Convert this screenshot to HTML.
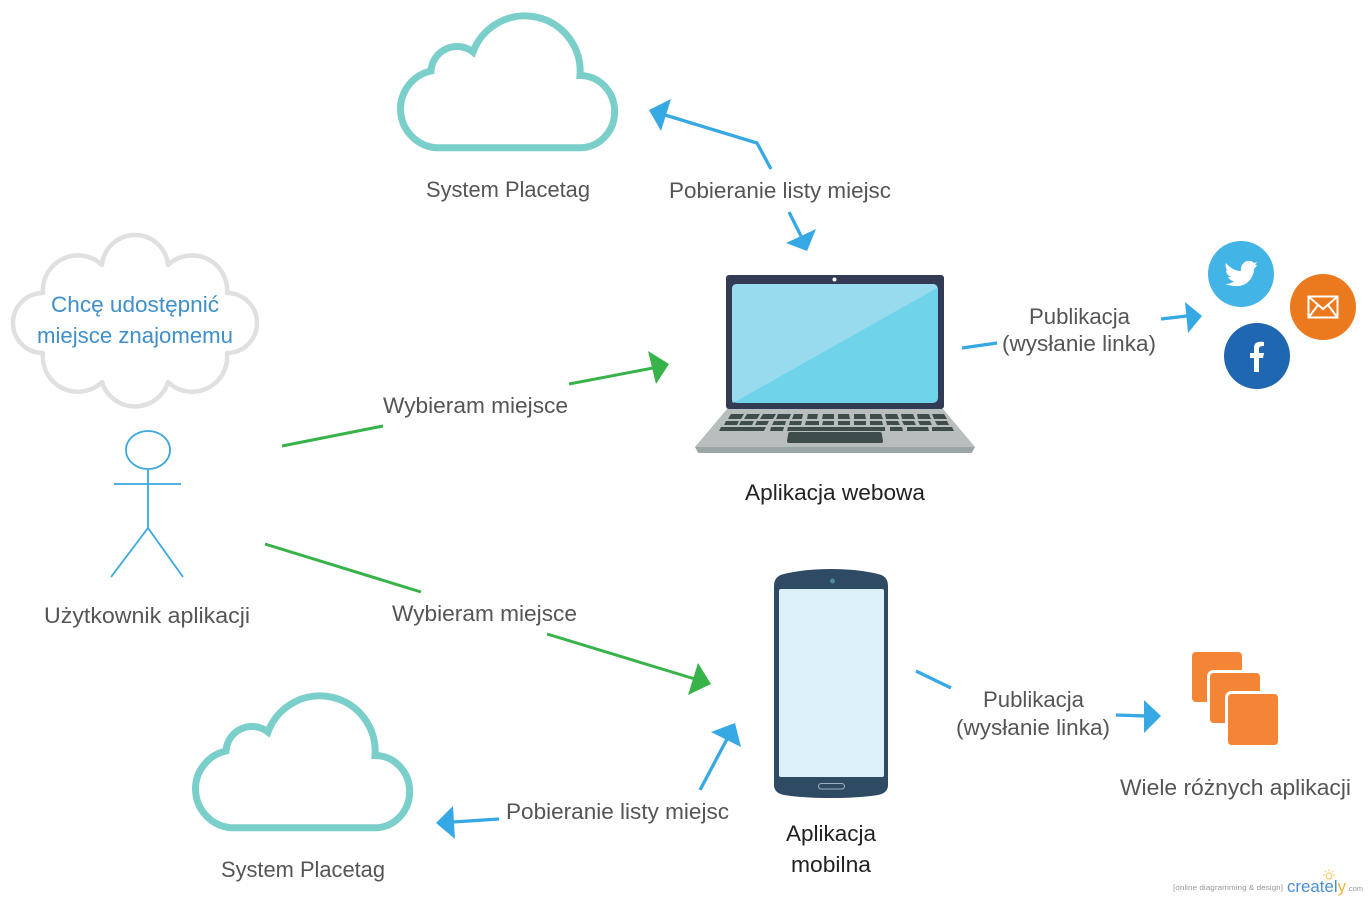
<!DOCTYPE html>
<html><head><meta charset="utf-8"><style>
html,body{margin:0;padding:0;background:#fff;width:1368px;height:900px;overflow:hidden}
svg{display:block}
text{font-family:"Liberation Sans",sans-serif;font-size:22px;fill:#555}
</style></head><body>
<svg width="1368" height="900" viewBox="0 0 1368 900" xmlns="http://www.w3.org/2000/svg">
<defs>
<path id="c" d="M437,147.800 L580,147.800 A34.500,36 0 0 0 580,75.500 A55.300,55.300 0 0 0 473,52 A26,26 0 0 0 431,71 A38.900,38.900 0 0 0 437,147.800 Z" fill="#fff" stroke="#7bcfca" stroke-width="7"/>
</defs>
<use href="#c"/>
<use href="#c" x="-205" y="680"/>
<text x="426" y="197" textLength="164" lengthAdjust="spacingAndGlyphs">System Placetag</text>
<text x="221" y="877" textLength="164" lengthAdjust="spacingAndGlyphs">System Placetag</text>

<!-- thought cloud -->
<path d="M102,265 A33.150,33.150 0 0 1 168,265 A35,35 0 0 1 227,293 A30,30 0 0 1 227,353 A35,35 0 0 1 168,382 A34.500,34.500 0 0 1 102,382 A35,35 0 0 1 43,353 A30,30 0 0 1 43,293 A35,35 0 0 1 102,265 Z" fill="#fff" stroke="#e0e0e0" stroke-width="4.500" stroke-linejoin="round"/>
<text x="51" y="312" textLength="168" lengthAdjust="spacingAndGlyphs" style="fill:#3f8fcb">Chcę udostępnić</text>
<text x="37" y="343" textLength="196" lengthAdjust="spacingAndGlyphs" style="fill:#3f8fcb">miejsce znajomemu</text>

<!-- stick figure -->
<g fill="none" stroke="#3aa8dc" stroke-width="1.800">
<ellipse cx="148" cy="450" rx="22" ry="19"/>
<path d="M148,469 V528 M114,484 H181 M111,577 L148,528 L183,577"/>
</g>
<text x="44" y="623" textLength="206" lengthAdjust="spacingAndGlyphs">Użytkownik aplikacji</text>

<!-- laptop -->
<path d="M727,409 H943 L975,447 L972,453 H698 L695,447 Z" fill="#b8bdbd"/>
<path d="M695,447 H975 L971,453 H699 Z" fill="#9aa6a6"/>
<rect x="726" y="275" width="218" height="134" rx="3" fill="#323b53"/>
<rect x="732" y="284" width="206" height="119" rx="5" fill="#6fd3ea"/>
<path d="M737,284 H933 Q937,284 937,288 L733,403 Q732,402 732,398 V289 Q732,284 737,284 Z" fill="#98dbee"/>
<circle cx="834.500" cy="279.500" r="2" fill="#fff"/>
<g fill="#3f4c4c">
<path d="M731,414 H744 L741,419 H728 Z M747,414 H760 L757,419 H744 Z M763,414 H776 L773,419 H760 Z M778,414 H791 L789,419 H776 Z M794,414 H803 L802,419 H792 Z M808,414 H818 L817,419 H807 Z M823,414 H834 V419 H822 Z M838,414 H849 L850,419 H838 Z M854,414 H865 L866,419 H854 Z M870,414 H881 L883,419 H870 Z M885,414 H897 L899,419 H886 Z M901,414 H913 L915,419 H902 Z M917,414 H929 L931,419 H918 Z M932,414 H944 L947,419 H934 Z"/>
<path d="M726,421 H739 L737,425 H724 Z M741,421 H754 L752,425 H739 Z M757,421 H769 L767,425 H755 Z M774,421 H786 L785,425 H772 Z M790,421 H802 L801,425 H789 Z M806,421 H819 V425 H805 Z M823,421 H834 V425 H822 Z M838,421 H850 V425 H838 Z M854,421 H866 V425 H854 Z M870,421 H882 L883,425 H870 Z M886,421 H898 L900,425 H887 Z M902,421 H914 L916,425 H904 Z M918,421 H930 L932,425 H920 Z M935,421 H947 L949,425 H937 Z"/>
<path d="M721,427 H766 L764,431 H719 Z M771,427 H784 L783,431 H770 Z M788,427 H885 V431 H787 Z M890,427 H902 L903,431 H890 Z M907,427 H928 L929,431 H907 Z M932,427 H952 L954,431 H932 Z"/>
<path d="M790,432 H880 Q882,432 882,435 L883,441 Q883,443 881,443 H789 Q787,443 787,441 L788,435 Q788,432 790,432 Z"/>
</g>
<text x="745" y="500" textLength="180" lengthAdjust="spacingAndGlyphs" style="fill:#222">Aplikacja webowa</text>

<!-- social -->
<circle cx="1241" cy="274" r="33" fill="#43b4e6"/>
<path d="M1226,263 C1231,269 1236,271 1241,271 C1240,265 1245,260 1250,261 C1252,261 1253,262 1254,263 L1257,262 L1255,265 L1257,265 C1256,267 1255,268 1254,269 C1254,277 1247,287 1236,286 C1232,286 1228,285 1225,284 C1229,284 1232,283 1234,281 C1231,281 1229,279 1228,277 L1231,277 C1228,276 1226,273 1226,270 L1228,271 C1226,269 1225,266 1226,263 Z" fill="#fff"/>
<circle cx="1323" cy="307" r="33" fill="#eb7a1e"/>
<g fill="none" stroke="#fff" stroke-width="2">
<rect x="1308.500" y="296.500" width="29" height="21"/>
<path d="M1309,297 L1323,309 L1337,297 M1309,317 L1318,305 M1337,317 L1328,305"/>
</g>
<circle cx="1257" cy="356" r="33" fill="#2067b2"/>
<path d="M1254,372 V358 H1250 V353 H1254 V348 C1254,343 1257,341 1264,342 V346 C1260,346 1259,347 1259,349 V353 H1264 L1263,358 H1259 V372 Z" fill="#fff"/>

<!-- phone -->
<path d="M774,586 Q774,576 784,574 Q804,569 831,569 Q858,569 878,574 Q888,576 888,586 V785 Q888,793 878,795 Q858,798 831,798 Q804,798 784,795 Q774,793 774,785 Z" fill="#2f4a63"/>
<rect x="779" y="589" width="105" height="188" rx="2" fill="#ddf1fa"/>
<circle cx="832.500" cy="581" r="2.500" fill="#4f8a9a"/>
<rect x="818.500" y="783.500" width="26" height="5.500" rx="2.700" fill="none" stroke="#9fb0bc" stroke-width="1"/>
<text x="786" y="841" textLength="90" lengthAdjust="spacingAndGlyphs" style="fill:#222">Aplikacja</text>
<text x="791" y="872" textLength="80" lengthAdjust="spacingAndGlyphs" style="fill:#222">mobilna</text>

<!-- squares -->
<rect x="1192" y="652" width="50" height="50" rx="4" fill="#f58536"/>
<rect x="1208.500" y="671.500" width="53" height="53" rx="5" fill="#f58536" stroke="#fff" stroke-width="3"/>
<rect x="1226.500" y="692.500" width="53" height="54" rx="5" fill="#f58536" stroke="#fff" stroke-width="3"/>
<text x="1120" y="795" textLength="231" lengthAdjust="spacingAndGlyphs">Wiele różnych aplikacji</text>

<!-- connectors blue -->
<g fill="none" stroke="#36a8e4" stroke-width="3.300">
<path d="M771,169 L757,143 L665,115"/>
<path d="M789,212 L801,236"/>
<path d="M962,348 L997,343"/>
<path d="M1161,319 L1187,316"/>
<path d="M916,671 L951,688"/>
<path d="M1116,715 L1146,716"/>
<path d="M700,790 L727,739"/>
<path d="M499,819 L453,822"/>
</g>
<g fill="#36a8e4">
<polygon points="649,110 671,99 661,131"/>
<polygon points="816,229 786,243 807,251"/>
<polygon points="1185,302 1202,316 1188,333"/>
<polygon points="1144,700 1161,716 1144,733"/>
<polygon points="711,732 735,723 741,747"/>
<polygon points="436,823 453,806 455,839"/>
</g>
<!-- connectors green -->
<g fill="none" stroke="#38b34a" stroke-width="3">
<path d="M282,446 L383,426"/>
<path d="M569,384 L653,368"/>
<path d="M265,544 L421,592"/>
<path d="M547,634 L695,679"/>
</g>
<g fill="#38b34a">
<polygon points="669,364 648,351 656,384"/>
<polygon points="698,663 711,684 688,695"/>
</g>

<text x="669" y="198" textLength="222" lengthAdjust="spacingAndGlyphs">Pobieranie listy miejsc</text>
<text x="506" y="819" textLength="223" lengthAdjust="spacingAndGlyphs">Pobieranie listy miejsc</text>
<text x="383" y="413" textLength="185" lengthAdjust="spacingAndGlyphs">Wybieram miejsce</text>
<text x="392" y="621" textLength="185" lengthAdjust="spacingAndGlyphs">Wybieram miejsce</text>
<text x="1029" y="324" textLength="101" lengthAdjust="spacingAndGlyphs">Publikacja</text>
<text x="1002" y="351" textLength="154" lengthAdjust="spacingAndGlyphs">(wysłanie linka)</text>
<text x="983" y="707" textLength="101" lengthAdjust="spacingAndGlyphs">Publikacja</text>
<text x="956" y="735" textLength="154" lengthAdjust="spacingAndGlyphs">(wysłanie linka)</text>

<!-- watermark -->
<text x="1173" y="890" textLength="110" lengthAdjust="spacingAndGlyphs" style="font-size:7.500px;fill:#999">[online diagramming &amp; design]</text>
<text x="1287" y="892" textLength="59" lengthAdjust="spacingAndGlyphs" style="font-size:17px;fill:#4a90d0">createl<tspan style="fill:#f2b63c">y</tspan></text>
<text x="1347" y="891" textLength="16" lengthAdjust="spacingAndGlyphs" style="font-size:7.500px;fill:#999">.com</text>
<g stroke="#f5c65a" stroke-width="1" fill="none"><circle cx="1329" cy="876" r="3"/><path d="M1329,869 V871 M1323,875 H1325 M1333,875 H1335 M1325,871 L1326,872 M1333,871 L1332,872"/></g>
</svg>
</body></html>
